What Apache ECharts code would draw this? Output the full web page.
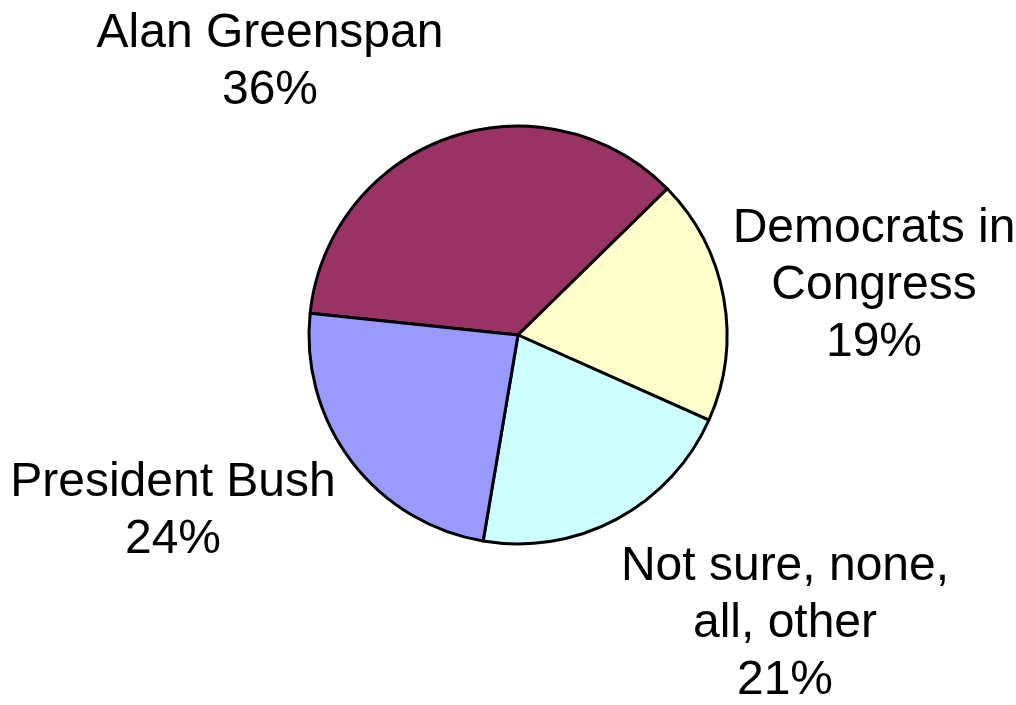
<!DOCTYPE html>
<html>
<head>
<meta charset="utf-8">
<style>
  html, body { margin: 0; padding: 0; background: #ffffff; }
  #chart { width: 1016px; height: 705px; }
</style>
<script src="https://cdn.jsdelivr.net/npm/echarts@6/dist/echarts.min.js"></script>
</head>
<body>
<div id="chart"></div>
<script>
// Who is to blame — share of responses (%)
const categories = ['Alan Greenspan', 'Democrats in\nCongress', 'Not sure, none,\nall, other', 'President Bush'];
const shares = [36, 19, 21, 24];
const sliceColors = ['#993366', '#FFFFCC', '#CCFFFF', '#9999FF'];

// Where each label block is centred on the page
const labelAnchors = [[270, 62], [874, 286], [785, 624], [173, 511]];

const chart = echarts.init(document.getElementById('chart'), null, { renderer: 'canvas' });

chart.setOption({
  animation: false,
  backgroundColor: '#ffffff',
  series: [{
    type: 'pie',
    center: [518, 335],
    radius: 209,
    startAngle: 174,
    clockwise: true,
    silent: true,
    data: categories.map((name, i) => ({
      name: name,
      value: shares[i],
      itemStyle: { color: sliceColors[i] }
    })),
    itemStyle: { borderColor: '#000000', borderWidth: 3 },
    label: {
      show: true,
      position: 'outside',
      formatter: '{b}\n{c}%',
      fontFamily: '"Liberation Sans", Arial, sans-serif',
      fontSize: 48,
      lineHeight: 57,
      color: '#000000',
      align: 'center',
      overflow: 'none',
      width: 400
    },
    labelLine: { show: false },
    labelLayout: function (params) {
      const p = labelAnchors[params.dataIndex];
      return { x: p[0], y: p[1], align: 'center', verticalAlign: 'middle', hideOverlap: false, moveOverlap: null };
    }
  }]
});
</script>
</body>
</html>
